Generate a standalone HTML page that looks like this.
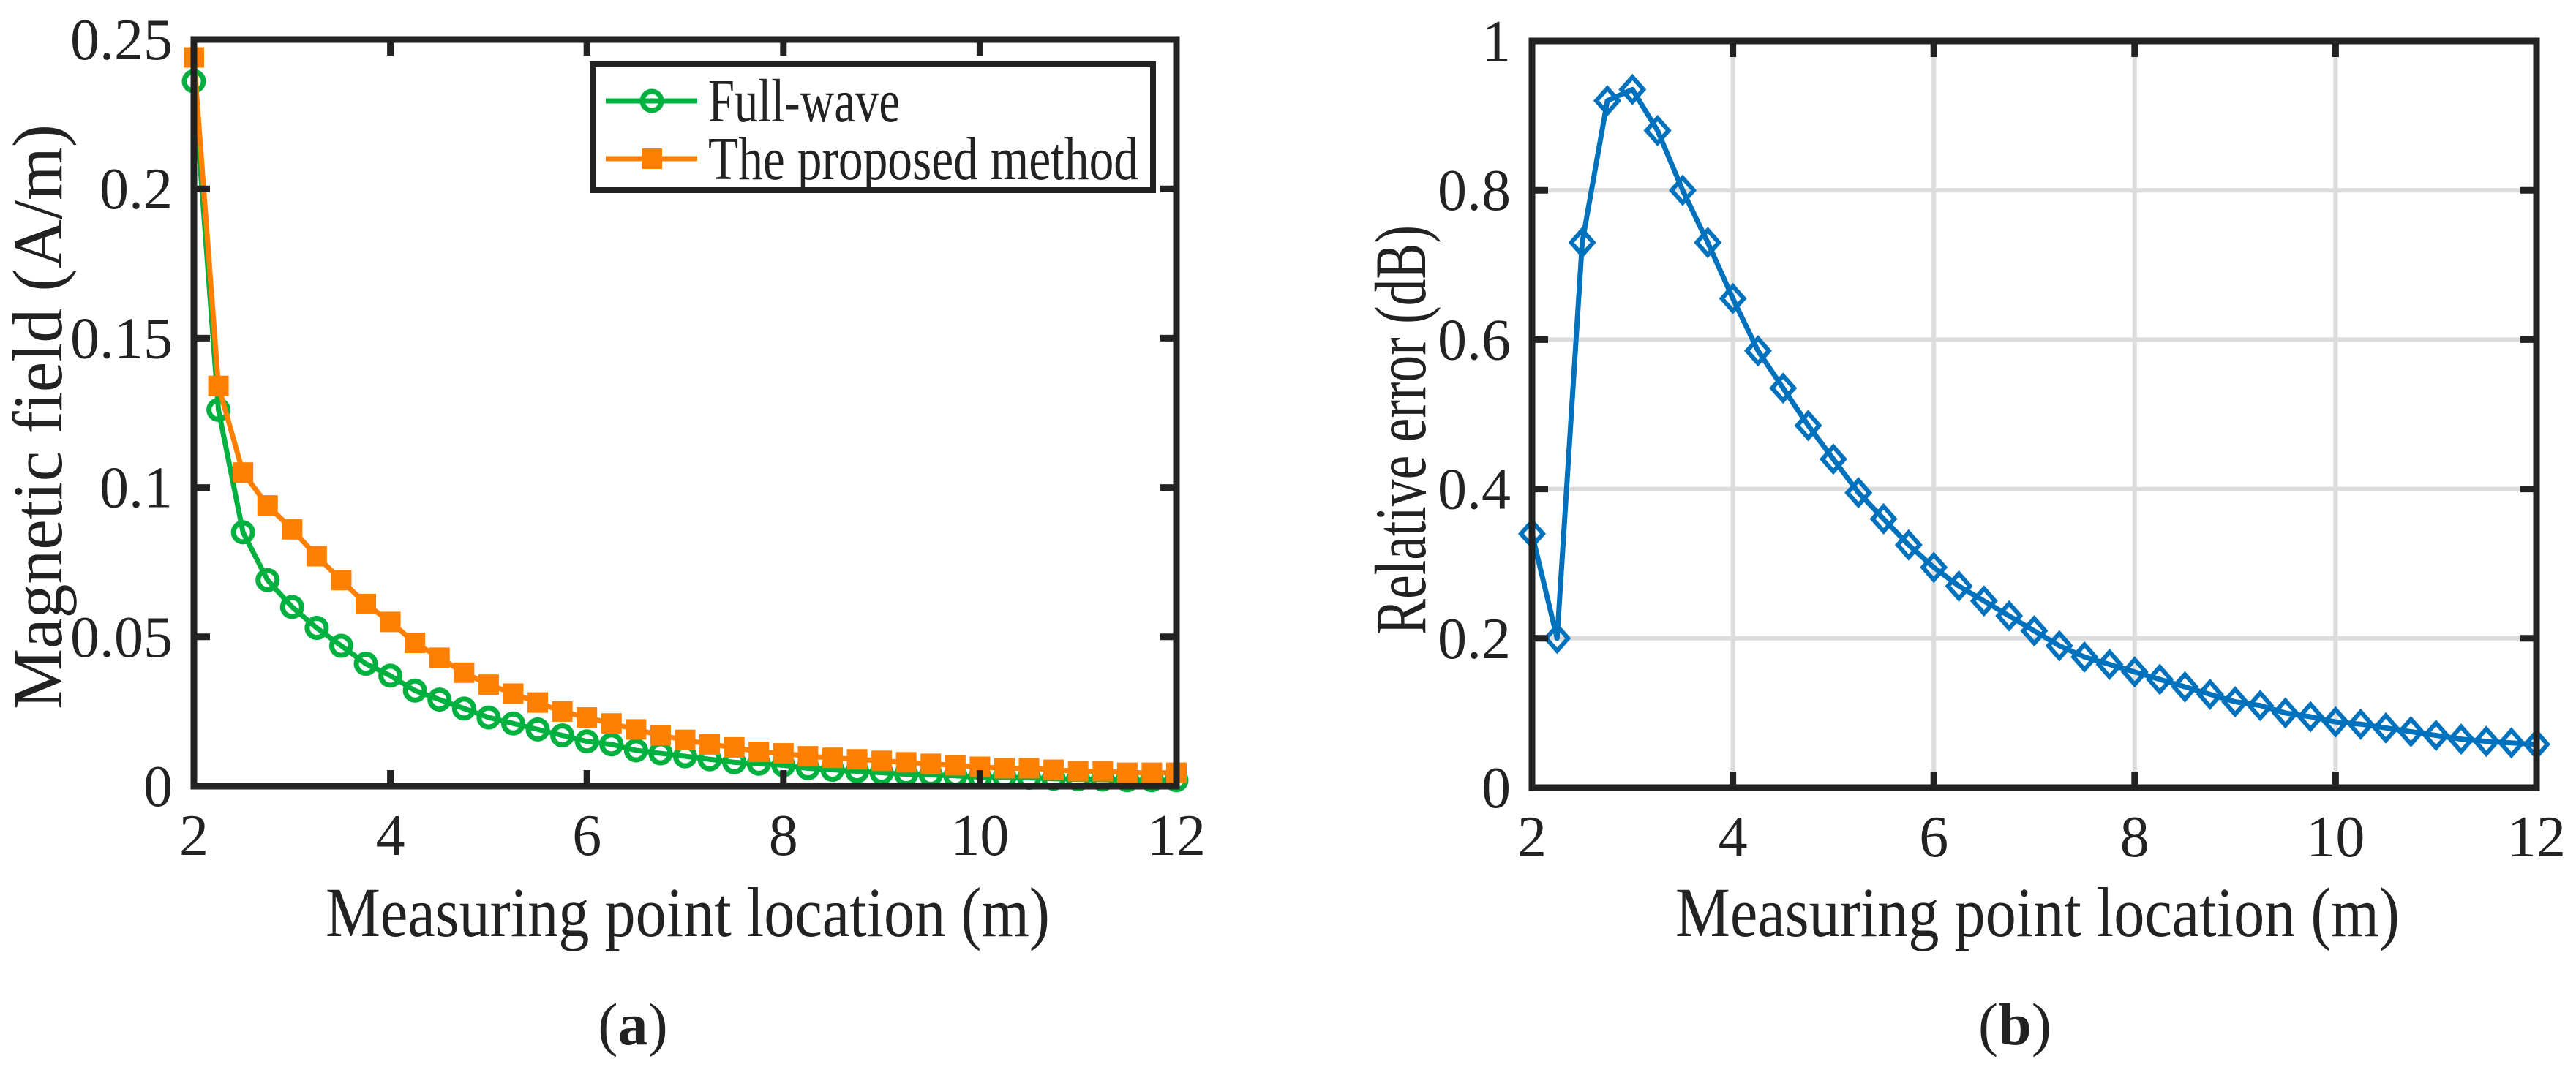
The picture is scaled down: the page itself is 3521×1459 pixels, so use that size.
<!DOCTYPE html>
<html><head><meta charset="utf-8"><style>
html,body{margin:0;padding:0;background:#fff;}
svg{display:block;}
text{font-family:"Liberation Serif","Times New Roman",Times,"DejaVu Serif",serif;}
</style></head><body>
<svg id="fig" width="3521" height="1459" viewBox="0 0 3521 1459" xmlns="http://www.w3.org/2000/svg">
<rect width="3521" height="1459" fill="#fff"/>
<g id="A"></g>
<g id="B"></g>
</svg>
<script>
const xs = [2,2.25,2.5,2.75,3,3.25,3.5,3.75,4,4.25,4.5,4.75,5,5.25,5.5,5.75,6,6.25,6.5,6.75,7,7.25,7.5,7.75,8,8.25,8.5,8.75,9,9.25,9.5,9.75,10,10.25,10.5,10.75,11,11.25,11.5,11.75,12];
const fullWave = [0.236,0.126,0.085,0.069,0.060,0.053,0.047,0.041,0.037,0.032,0.029,0.026,0.023,0.021,0.019,0.017,0.015,0.014,0.012,0.011,0.010,0.009,0.008,0.0075,0.007,0.006,0.0055,0.005,0.0045,0.004,0.0038,0.0035,0.003,0.003,0.0028,0.0025,0.0023,0.0022,0.002,0.002,0.002];
const proposed = [0.244,0.134,0.105,0.094,0.086,0.077,0.069,0.061,0.055,0.048,0.043,0.038,0.034,0.031,0.028,0.025,0.023,0.021,0.019,0.017,0.0155,0.014,0.013,0.0115,0.011,0.010,0.0095,0.009,0.0085,0.008,0.0075,0.007,0.0065,0.006,0.006,0.0055,0.005,0.005,0.0045,0.0045,0.0045];
const relErr = [0.34,0.20,0.73,0.92,0.935,0.88,0.80,0.73,0.655,0.585,0.535,0.485,0.44,0.395,0.36,0.325,0.295,0.27,0.25,0.23,0.21,0.19,0.175,0.165,0.155,0.145,0.135,0.125,0.115,0.11,0.10,0.095,0.088,0.085,0.08,0.075,0.07,0.065,0.062,0.06,0.058];
const xTicks = [2,4,6,8,10,12];
const yTicksA = [0,0.05,0.1,0.15,0.2,0.25];
const yTickLabelsA = ["0","0.05","0.1","0.15","0.2","0.25"];
const yTicksB = [0,0.2,0.4,0.6,0.8,1];
const yTickLabelsB = ["0","0.2","0.4","0.6","0.8","1"];

const NS="http://www.w3.org/2000/svg";
const FF='"Liberation Serif","Times New Roman",Times,"DejaVu Serif",serif';
function mk(parent,tag,attrs,text){const e=document.createElementNS(NS,tag);for(const k in attrs)e.setAttribute(k,attrs[k]);if(tag==='text')e.setAttribute('font-family',FF);if(text!==undefined)e.textContent=text;parent.appendChild(e);return e;}

function axes(g,L,R,T,B,ymax,yTicks,grid){
  const sx=v=>L+(v-2)/10*(R-L), sy=v=>B-v/ymax*(B-T);
  if(grid){
    xTicks.forEach(t=>{const l=mk(g,'line',{x1:sx(t),x2:sx(t),y1:T,y2:B,stroke:'#dcdcdc','stroke-width':6});
      
      });
    yTicks.forEach(t=>{const l=mk(g,'line',{x1:L,x2:R,y1:sy(t),y2:sy(t),stroke:'#dcdcdc','stroke-width':6});
      
      });
  }
  return {sx,sy};
}
function frame(g,L,R,T,B,sx,sy,yTicks,yLabels,labelRight){
  xTicks.forEach(t=>{
    mk(g,'line',{x1:sx(t),x2:sx(t),y1:B,y2:B-22,stroke:'#222','stroke-width':9});
    mk(g,'line',{x1:sx(t),x2:sx(t),y1:T,y2:T+22,stroke:'#222','stroke-width':9});
    const tx=mk(g,'text',{x:sx(t),y:B+94,'text-anchor':'middle','font-size':80,fill:'#222'},String(t));
    
    
  });
  yTicks.forEach((t,i)=>{
    mk(g,'line',{x1:L,x2:L+22,y1:sy(t),y2:sy(t),stroke:'#222','stroke-width':9});
    mk(g,'line',{x1:R,x2:R-22,y1:sy(t),y2:sy(t),stroke:'#222','stroke-width':9});
    const tx=mk(g,'text',{x:labelRight,y:sy(t)+27,'text-anchor':'end','font-size':80,fill:'#222'},yLabels[i]);
    
    
  });
  const r=mk(g,'rect',{x:L,y:T,width:R-L,height:B-T,fill:'none',stroke:'#222','stroke-width':9});
  
  
}
function series(g,vals,sx,sy,color,marker,name){
  const sg=mk(g,'g',{});
  
  
  mk(sg,'polyline',{points:vals.map((v,i)=>sx(xs[i])+','+sy(v)).join(' '),fill:'none',stroke:color,'stroke-width':7,'stroke-linejoin':'round'});
  vals.forEach((v,i)=>{
    const x=sx(xs[i]),y=sy(v);let m;
    if(marker==='circle') m=mk(sg,'circle',{cx:x,cy:y,r:13,fill:'none',stroke:color,'stroke-width':7});
    else if(marker==='square') m=mk(sg,'rect',{x:x-14,y:y-14,width:28,height:28,fill:color});
    else m=mk(sg,'polygon',{points:`${x},${y-17} ${x+15},${y} ${x},${y+17} ${x-15},${y}`,fill:'none',stroke:color,'stroke-width':6});
    
    
  });
}
function fit(t,len){t.setAttribute('textLength',len);t.setAttribute('lengthAdjust','spacingAndGlyphs');}
// Chart A
(function(){
  const g=document.getElementById('A');
  const L=265,R=1608,T=54,B=1075;
  const {sx,sy}=axes(g,L,R,T,B,0.25,yTicksA,false);
  series(g,fullWave,sx,sy,'#00b140','circle','series-full-wave');
  series(g,proposed,sx,sy,'#ff8000','square','series-proposed-method');
  frame(g,L,R,T,B,sx,sy,yTicksA,yTickLabelsA,236);
  const lg=mk(g,'g',{});
  
  
  mk(lg,'rect',{x:810,y:88,width:766,height:172,fill:'#fff',stroke:'#222','stroke-width':8});
  mk(lg,'line',{x1:828,x2:953,y1:138,y2:138,stroke:'#00b140','stroke-width':7});
  mk(lg,'circle',{cx:891,cy:138,r:13,fill:'none',stroke:'#00b140','stroke-width':7});
  const t1=mk(lg,'text',{x:968,y:166,'font-size':84,fill:'#222'},'Full-wave');
  fit(t1,262);
  
  
  mk(lg,'line',{x1:828,x2:953,y1:217,y2:217,stroke:'#ff8000','stroke-width':7});
  mk(lg,'rect',{x:877,y:203,width:28,height:28,fill:'#ff8000'});
  const t2=mk(lg,'text',{x:968,y:245,'font-size':84,fill:'#222'},'The proposed method');
  fit(t2,588);
  
  
  const xt=mk(g,'text',{x:940,y:1280,'text-anchor':'middle','font-size':96,fill:'#222'},'Measuring point location (m)');
  fit(xt,990);
  
  
  const yt=mk(g,'text',{x:0,y:0,'text-anchor':'middle','font-size':96,fill:'#222',transform:'translate(84,570) rotate(-90)'},'Magnetic field  (A/m)');
  fit(yt,800);
  
  
  const cap=mk(g,'text',{x:865,y:1428,'text-anchor':'middle','font-size':82,fill:'#222'});
  
  
  mk(cap,'tspan',{},'(');mk(cap,'tspan',{'font-weight':'bold'},'a');mk(cap,'tspan',{},')');
})();
// Chart B
(function(){
  const g=document.getElementById('B');
  const L=2094,R=3467,T=56,B=1077;
  const {sx,sy}=axes(g,L,R,T,B,1,yTicksB,true);
  series(g,relErr,sx,sy,'#0072bd','diamond','series-relative-error');
  frame(g,L,R,T,B,sx,sy,yTicksB,yTickLabelsB,2065);
  const xt=mk(g,'text',{x:2785,y:1280,'text-anchor':'middle','font-size':96,fill:'#222'},'Measuring point location (m)');
  fit(xt,990);
  
  
  const yt=mk(g,'text',{x:0,y:0,'text-anchor':'middle','font-size':100,fill:'#222',transform:'translate(1948,588) rotate(-90)'},'Relative error (dB)');
  fit(yt,560);
  
  
  const cap=mk(g,'text',{x:2754,y:1428,'text-anchor':'middle','font-size':82,fill:'#222'});
  
  
  mk(cap,'tspan',{},'(');mk(cap,'tspan',{'font-weight':'bold'},'b');mk(cap,'tspan',{},')');
})();
</script>
</body></html>
